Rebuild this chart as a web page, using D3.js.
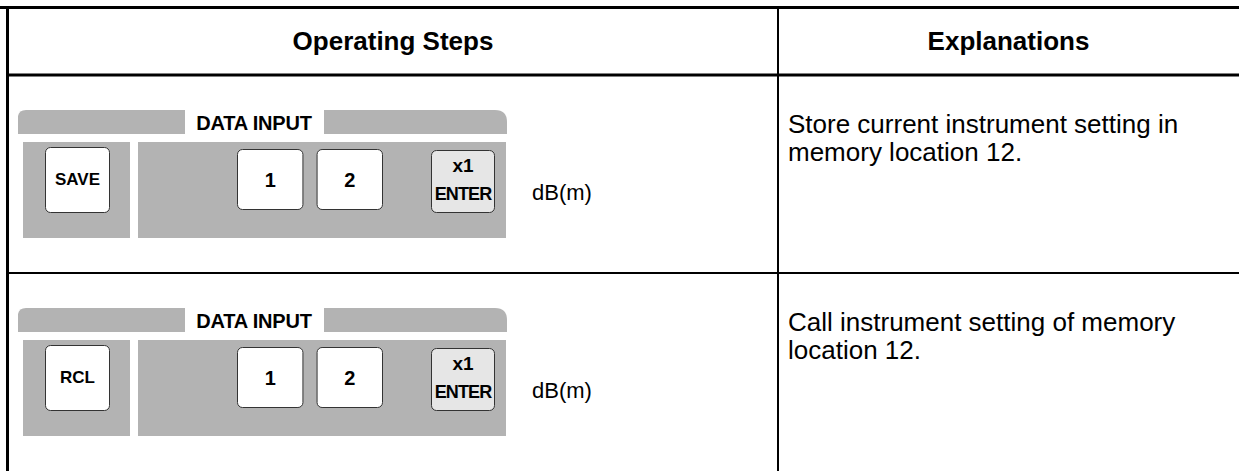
<!DOCTYPE html>
<html><head><meta charset="utf-8">
<script src="https://cdn.jsdelivr.net/npm/d3@7"></script>
<style>html,body{margin:0;padding:0;background:#fff}svg{display:block}text{font-family:"Liberation Sans",Arial,sans-serif}</style>
</head><body><svg id="c" width="1239" height="471"></svg>
<script>
const columns = ["Operating Steps", "Explanations"];
const functionKeys = ["SAVE", "RCL"];
const digitKeys = ["1", "2"];
const enterKey = ["x1", "ENTER"];
const unitLabels = ["dB(m)", "dB(m)"];
const panelTitle = "DATA INPUT";
const explanations = [
  ["Store current instrument setting in", "memory location 12."],
  ["Call instrument setting of memory", "location 12."]
];

const W = 1239, H = 471;
const svg = d3.select("#c");
const colX = d3.scaleOrdinal().domain(columns).range([[8, 778], [778, W]]);
const rowY = d3.scaleBand().domain(d3.range(functionKeys.length)).range([76, 472]);
const digitX = d3.scaleBand().domain(digitKeys).range([237, 383]).paddingInner(0.165).paddingOuter(0);

// header text
columns.forEach(c => {
  const [a, b] = colX(c);
  svg.append("text").attr("x", (a + b) / 2).attr("y", 50).attr("text-anchor", "middle")
    .attr("font-size", 26).attr("font-weight", "bold").attr("fill", "#000").text(c);
});

function keyRect(g, x0, y0, x1, y1, fill) {
  g.append("rect").attr("x", x0 + 0.5).attr("y", y0 + 0.5).attr("width", x1 - x0 - 1).attr("height", y1 - y0 - 1)
    .attr("rx", 5).attr("fill", fill).attr("stroke", "#333").attr("stroke-width", 1);
}

functionKeys.forEach((fk, i) => {
  const t = rowY(i);
  const g = svg.append("g");
  // tab bar
  const ty0 = t + 34, ty1 = t + 58;
  g.append("path").attr("fill", "#b3b3b3")
    .attr("d", `M18,${ty1} L18,${ty0 + 6} Q19,${ty0} 26,${ty0} L185,${ty0} L185,${ty1} Z`);
  g.append("path").attr("fill", "#b3b3b3")
    .attr("d", `M324,${ty1} L324,${ty0} L495,${ty0} Q507,${ty0} 507,${ty0 + 12} L507,${ty1} Z`);
  g.append("text").attr("x", 254).attr("y", t + 54).attr("text-anchor", "middle")
    .attr("font-size", 20).attr("font-weight", "bold").attr("letter-spacing", -0.2).text(panelTitle);
  // panels
  const py0 = t + 66, py1 = t + 162;
  g.append("rect").attr("x", 23).attr("y", py0).attr("width", 107).attr("height", py1 - py0).attr("fill", "#b3b3b3");
  g.append("rect").attr("x", 138).attr("y", py0).attr("width", 368).attr("height", py1 - py0).attr("fill", "#b3b3b3");
  // function key
  keyRect(g, 45, t + 71, 110, t + 137, "#fff");
  g.append("text").attr("x", 77.5).attr("y", t + 109).attr("text-anchor", "middle")
    .attr("font-size", 17).attr("font-weight", "bold").text(fk);
  // digit keys
  digitKeys.forEach(d => {
    const x0 = digitX(d), x1 = x0 + digitX.bandwidth();
    keyRect(g, x0, t + 73, x1, t + 134, "#fff");
    g.append("text").attr("x", (x0 + x1) / 2).attr("y", t + 111).attr("text-anchor", "middle")
      .attr("font-size", 20).attr("font-weight", "bold").text(d);
  });
  // enter key
  keyRect(g, 431, t + 74, 495, t + 137, "#e6e6e6");
  g.append("text").attr("x", 463).attr("y", t + 96).attr("text-anchor", "middle")
    .attr("font-size", 19).attr("font-weight", "bold").text(enterKey[0]);
  g.append("text").attr("x", 463).attr("y", t + 124).attr("text-anchor", "middle")
    .attr("font-size", 18).attr("font-weight", "bold").attr("letter-spacing", -0.9).text(enterKey[1]);
  // unit
  g.append("text").attr("x", 532).attr("y", t + 124).attr("font-size", 22).text(unitLabels[i]);
  // explanation
  explanations[i].forEach((line, j) => {
    g.append("text").attr("x", 788).attr("y", t + 57 + j * 27.5).attr("font-size", 26).text(line);
  });
});

// grid lines
svg.append("rect").attr("x", 0).attr("y", 6).attr("width", W).attr("height", 3).attr("fill", "#000");
svg.append("rect").attr("x", 6).attr("y", 6).attr("width", 3).attr("height", H).attr("fill", "#000");
svg.append("rect").attr("x", 6).attr("y", 73.5).attr("width", W).attr("height", 3).attr("fill", "#000");
svg.append("rect").attr("x", 6).attr("y", rowY(1) - 2).attr("width", W).attr("height", 2).attr("fill", "#000");
svg.append("rect").attr("x", 777).attr("y", 6).attr("width", 2).attr("height", H).attr("fill", "#000");
</script></body></html>
